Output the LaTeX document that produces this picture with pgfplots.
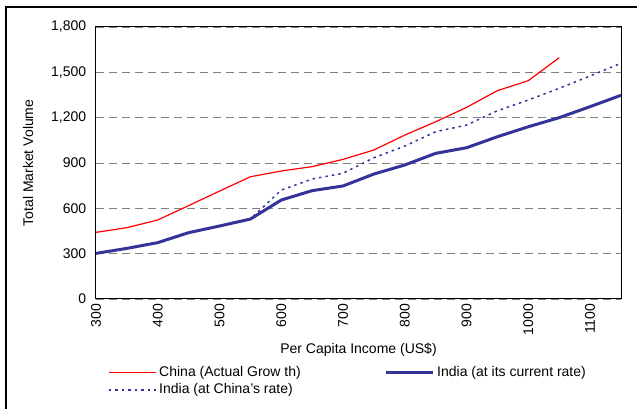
\documentclass[border=0pt]{standalone}
\usepackage{fontspec}
\setmainfont{Liberation Sans}
\usepackage{pgfplots}
\pgfplotsset{compat=1.18}
\definecolor{chinared}{HTML}{FF0000}
\definecolor{indiablue}{HTML}{333399}

\begin{document}
\fontsize{14}{16}\selectfont
\begin{tikzpicture}
\useasboundingbox (-96pt,-110pt) rectangle (541pt,299pt);
% outer chart frame (only top and left edges visible)
\draw[black, line width=2pt] (-90pt,-115pt) -- (-90pt,292pt) -- (545pt,292pt);
\begin{axis}[
  at={(0pt,0pt)}, anchor=south west,
  scale only axis, width=525pt, height=272pt,
  xmin=300, xmax=1150, ymin=0, ymax=1800,
  xtick={300,400,...,1100}, ytick={0,300,...,1800},
  major tick length=0pt,
  ymajorgrids,
  grid style={gray, dash pattern=on 8pt off 5pt, line width=0.9pt},
  axis line style={black, line width=1pt},
  tick label style={font=\fontsize{14}{16}\selectfont},
  /pgf/number format/assume math mode=true,
  yticklabel style={/pgf/number format/1000 sep={,}, xshift=-5pt},
  xticklabel style={rotate=90, anchor=east, /pgf/number format/1000 sep={}},
  xlabel={Per Capita Income (US\$)},
  ylabel={Total Market Volume},
  xlabel style={at={(axis description cs:0.5,0)}, anchor=center, yshift=-51pt, font=\fontsize{14}{16}\selectfont},
  ylabel style={at={(axis description cs:0,0.5)}, anchor=center, yshift=68pt, font=\fontsize{14}{16}\selectfont},
  legend columns=2,
  legend cell align=left,
  legend image code/.code={\draw[#1] (0pt,0pt) -- (47pt,0pt);},
  legend style={at={(axis description cs:0.0229,-0.238)}, anchor=north west,
    draw=none, fill=none, inner sep=0pt, row sep=0pt,
    font=\fontsize{14}{16}\selectfont,
    nodes={inner sep=2.5pt}},
]

\addplot[chinared, line width=1.2pt] coordinates {
  (300,441) (350,472) (400,523) (450,618) (500,714) (550,809) (600,847)
  (650,876) (700,924) (750,986) (800,1085) (850,1173) (900,1268)
  (950,1379) (1000,1445) (1050,1597)
};
\addlegendentry{\makebox[223pt][l]{China (Actual Grow th)}}

\addplot[indiablue, line width=3pt] coordinates {
  (300,302) (350,335) (400,373) (450,439) (500,483) (550,529) (600,655)
  (650,717) (700,748) (750,827) (800,887) (850,964) (900,1001)
  (950,1074) (1000,1140) (1050,1200) (1100,1273) (1150,1348)
};
\addlegendentry{India (at its current rate)}

\addplot[indiablue, line width=1.5pt, dash pattern=on 2.5pt off 4pt] coordinates {
  (300,302) (350,335) (400,373) (450,439) (500,483) (550,529) (600,721)
  (650,794) (700,832) (750,935) (800,1012) (850,1107) (900,1151)
  (950,1246) (1000,1317) (1050,1394) (1100,1476) (1150,1560)
};
\addlegendentry{India (at China's rate)}

\end{axis}
\end{tikzpicture}
\end{document}
